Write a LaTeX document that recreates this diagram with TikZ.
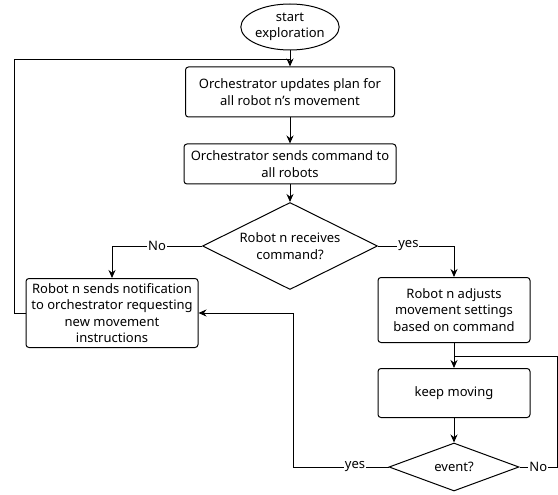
\documentclass[tikz,border=0pt]{standalone}
\usepackage{fontspec}
\setmainfont{Noto Sans}
\usetikzlibrary{shapes.geometric,arrows.meta}
\begin{document}
\begin{tikzpicture}[x=1pt,y=-1pt,
  every node/.style={font=\fontsize{13}{16.5}\selectfont},
  box/.style={draw, line width=1pt, rounded corners=3pt, align=center, inner sep=1pt},
  dia/.style={draw, line width=1pt, diamond, shape aspect=2, align=center, inner sep=0pt},
  arr/.style={line width=1pt, -{Stealth[length=8pt,width=7pt]}},
  ln/.style={line width=1pt},
  lbl/.style={fill=white, inner sep=1pt}]
\useasboundingbox (0,0) rectangle (558,495);
\node[draw, line width=1pt, ellipse, minimum width=98pt, minimum height=46pt, inner sep=0pt, align=center] (start) at (290,27) {start\\exploration};
\node[box, minimum width=209pt, minimum height=50pt] (b1) at (290,92) {Orchestrator updates plan for\\all robot n's movement};
\node[box, minimum width=212pt, minimum height=40pt] (b2) at (290,164) {Orchestrator sends command to\\all robots};
\node[dia, minimum width=175pt, minimum height=87pt] (d1) at (290,246) {Robot n receives\\command?};
\node[box, minimum width=172pt, minimum height=69pt] (lb) at (112,313) {Robot n sends notification\\to orchestrator requesting\\new movement\\instructions};
\node[box, minimum width=152pt, minimum height=65pt] (rb) at (454,310) {Robot n adjusts\\movement settings\\based on command};
\node[box, minimum width=152pt, minimum height=49pt] (km) at (454,393) {keep moving};
\node[dia, minimum width=130pt, minimum height=48pt] (ev) at (454,467) {event?};
\coordinate (j1) at (290,60);
\coordinate (l1) at (14,313);
\coordinate (l2) at (14,60);
\coordinate (y1) at (293,467);
\coordinate (n1) at (557,467);
\coordinate (n2) at (557,356);
\coordinate (j2) at (454,356);
\draw[arr] (start) -- (b1);
\draw[arr] (b1) -- (b2);
\draw[arr] (b2) -- (d1);
\draw[ln] (lb.west) -- (l1) -- (l2) -- (j1);
\draw[arr] (d1.west) -| node[lbl, pos=0.25] {No} (lb.north);
\draw[arr] (d1.east) -| node[lbl, pos=0.2] {yes} (rb.north);
\draw[arr] (rb) -- (km);
\draw[arr] (km) -- (ev);
\draw[arr] (ev.west) -- node[lbl, pos=0.35] {yes} (y1) |- (lb.east);
\draw[ln] (ev.east) -- node[lbl] {No} (n1) -- (n2) -- (j2);
\end{tikzpicture}
\end{document}
